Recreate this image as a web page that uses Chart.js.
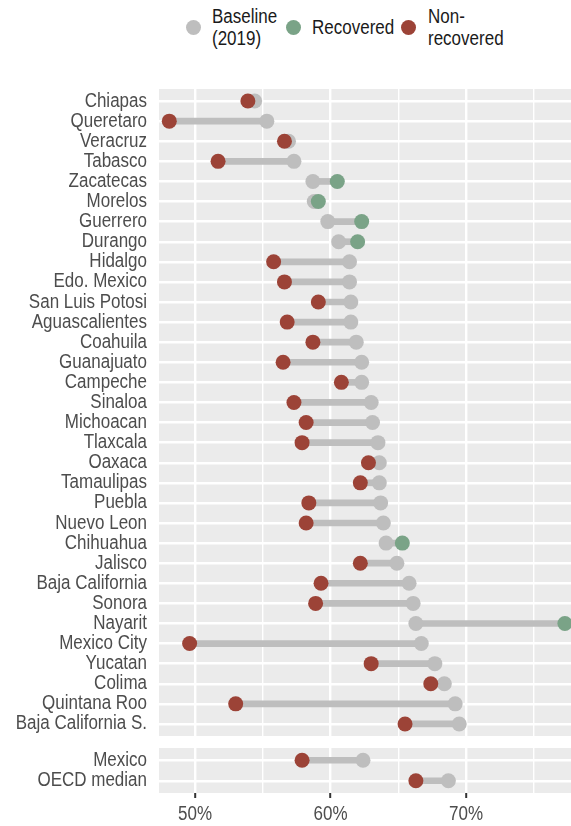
<!DOCTYPE html>
<html>
<head>
<meta charset="utf-8">
<script src="https://cdn.jsdelivr.net/npm/chart.js@4.4.1/dist/chart.umd.min.js"></script>
<style>
  body { margin: 0; background: #fff; }
  #wrap { position: relative; width: 571px; height: 826px; overflow: hidden;
          font-family: "Liberation Sans", Arial, sans-serif; }
  canvas { position: absolute; left: 0; }
  .dot { position: absolute; width: 15px; height: 15px; border-radius: 50%; }
  .lbl { position: absolute; font-size: 20px; line-height: 22px; color: #1a1a1a; white-space: nowrap;
         transform: scaleX(0.85); transform-origin: left top; }
</style>
</head>
<body>
<div id="wrap">
  <div class="dot" style="left:186px;top:20px;background:#bebebe"></div>
  <div class="lbl" style="left:212px;top:5px">Baseline<br>(2019)</div>
  <div class="dot" style="left:286px;top:20px;background:#7aa387"></div>
  <div class="lbl" style="left:312px;top:16px">Recovered</div>
  <div class="dot" style="left:401px;top:20px;background:#9c4337"></div>
  <div class="lbl" style="left:428px;top:5px">Non-<br>recovered</div>
  <canvas id="mainChart" width="571" height="736" style="top:0"></canvas>
  <canvas id="refChart" width="571" height="90" style="top:736px"></canvas>
</div>
<script>
const states = ['Chiapas', 'Queretaro', 'Veracruz', 'Tabasco', 'Zacatecas', 'Morelos', 'Guerrero',
  'Durango', 'Hidalgo', 'Edo. Mexico', 'San Luis Potosi', 'Aguascalientes', 'Coahuila', 'Guanajuato',
  'Campeche', 'Sinaloa', 'Michoacan', 'Tlaxcala', 'Oaxaca', 'Tamaulipas', 'Puebla', 'Nuevo Leon',
  'Chihuahua', 'Jalisco', 'Baja California', 'Sonora', 'Nayarit', 'Mexico City', 'Yucatan', 'Colima',
  'Quintana Roo', 'Baja California S.'];
const baseline = [54.4, 55.3, 56.9, 57.3, 58.7, 58.8, 59.8, 60.6, 61.4, 61.4, 61.5, 61.5, 61.9, 62.3,
  62.3, 63.0, 63.1, 63.5, 63.6, 63.6, 63.7, 63.9, 64.1, 64.9, 65.8, 66.1, 66.3, 66.7, 67.7, 68.4, 69.2, 69.5];
const current = [53.9, 48.1, 56.6, 51.7, 60.5, 59.1, 62.3, 62.0, 55.8, 56.6, 59.1, 56.8, 58.7, 56.5,
  60.8, 57.3, 58.2, 57.9, 62.8, 62.2, 58.4, 58.2, 65.3, 62.2, 59.3, 58.9, 77.3, 49.6, 63.0, 67.4, 53.0, 65.5];

const refNames = ['Mexico', 'OECD median'];
const refBaseline = [62.4, 68.7];
const refCurrent = [57.9, 66.3];

const xTicks = [50, 55, 60, 65, 70, 75];

const GREY = '#bebebe';
const GREEN = '#7aa387';
const RED = '#9c4337';
const SQUEEZE = 0.85; // narrow face look-alike

Chart.defaults.font.family = '"Liberation Sans", Arial, sans-serif';

const panelBg = {
  id: 'panelBg',
  beforeDraw(chart) {
    const { ctx, chartArea: a } = chart;
    ctx.save();
    ctx.fillStyle = '#ebebeb';
    ctx.fillRect(a.left, a.top, a.right - a.left, a.bottom - a.top);
    ctx.restore();
  }
};

// axis labels drawn in a condensed style
const narrowLabels = {
  id: 'narrowLabels',
  afterDraw(chart, args, opts) {
    const { ctx, chartArea: a } = chart;
    const x = chart.scales.x, y = chart.scales.y;
    ctx.save();
    ctx.font = '20px "Liberation Sans", Arial, sans-serif';
    ctx.fillStyle = '#4d4d4d';
    ctx.textBaseline = 'middle';
    ctx.textAlign = 'right';
    opts.names.forEach((n, i) => {
      ctx.save();
      ctx.translate(a.left - 12, y.getPixelForValue(i));
      ctx.scale(SQUEEZE, 1);
      ctx.fillText(n, 0, 0);
      ctx.restore();
    });
    if (opts.showX) {
      ctx.textAlign = 'center';
      xTicks.filter(v => v % 10 === 0).forEach(v => {
        ctx.save();
        ctx.translate(x.getPixelForValue(v), a.bottom + 21);
        ctx.scale(SQUEEZE, 1);
        ctx.fillText(v + '%', 0, 0);
        ctx.restore();
      });
    }
    ctx.restore();
  }
};

function makeChart(id, names, base, cur, showX, padding) {
  const segs = names.map((_, i) => ({ x: [Math.min(base[i], cur[i]), Math.max(base[i], cur[i])], y: i }));
  return new Chart(document.getElementById(id), {
    type: 'bar',
    data: {
      datasets: [
        {
          type: 'bar', indexAxis: 'y', data: segs,
          backgroundColor: GREY, barThickness: 6, order: 3
        },
        {
          type: 'scatter', data: names.map((_, i) => ({ x: base[i], y: i })),
          backgroundColor: GREY, borderWidth: 0, pointRadius: 7.5, order: 2
        },
        {
          type: 'scatter', data: names.map((_, i) => ({ x: cur[i], y: i })),
          backgroundColor: names.map((_, i) => cur[i] > base[i] ? GREEN : RED),
          borderWidth: 0, pointRadius: 7.5, order: 1
        }
      ]
    },
    options: {
      responsive: false,
      animation: false,
      layout: { padding: padding, autoPadding: false },
      plugins: {
        legend: { display: false },
        tooltip: { enabled: false },
        narrowLabels: { names: names, showX: showX }
      },
      scales: {
        x: {
          type: 'linear', min: 47.34, max: 77.75, offset: false,
          afterBuildTicks: s => { s.ticks = xTicks.map(v => ({ value: v })); },
          border: { display: false },
          grid: {
            offset: false,
            color: '#ffffff',
            lineWidth: c => c.tick && c.tick.value % 10 === 0 ? 2.4 : 1.4,
            drawTicks: showX,
            tickLength: 5,
            tickWidth: 2,
            tickColor: c => c.tick && c.tick.value % 10 === 0 ? '#333333' : 'rgba(0,0,0,0)'
          },
          ticks: { display: false }
        },
        y: {
          type: 'linear', reverse: true, min: -0.6, max: names.length - 0.4, offset: false,
          afterBuildTicks: s => { s.ticks = names.map((_, i) => ({ value: i })); },
          afterFit: s => { s.width = 159; },
          border: { display: false },
          grid: { offset: false, color: '#ffffff', lineWidth: 2.4, drawTicks: false },
          ticks: { display: false }
        }
      }
    },
    plugins: [panelBg, narrowLabels]
  });
}

makeChart('mainChart', states, baseline, current, false, { top: 89, bottom: 0, left: 0, right: 0 });
makeChart('refChart', refNames, refBaseline, refCurrent, true, { top: 12, bottom: 28, left: 0, right: 0 });
</script>
</body>
</html>
